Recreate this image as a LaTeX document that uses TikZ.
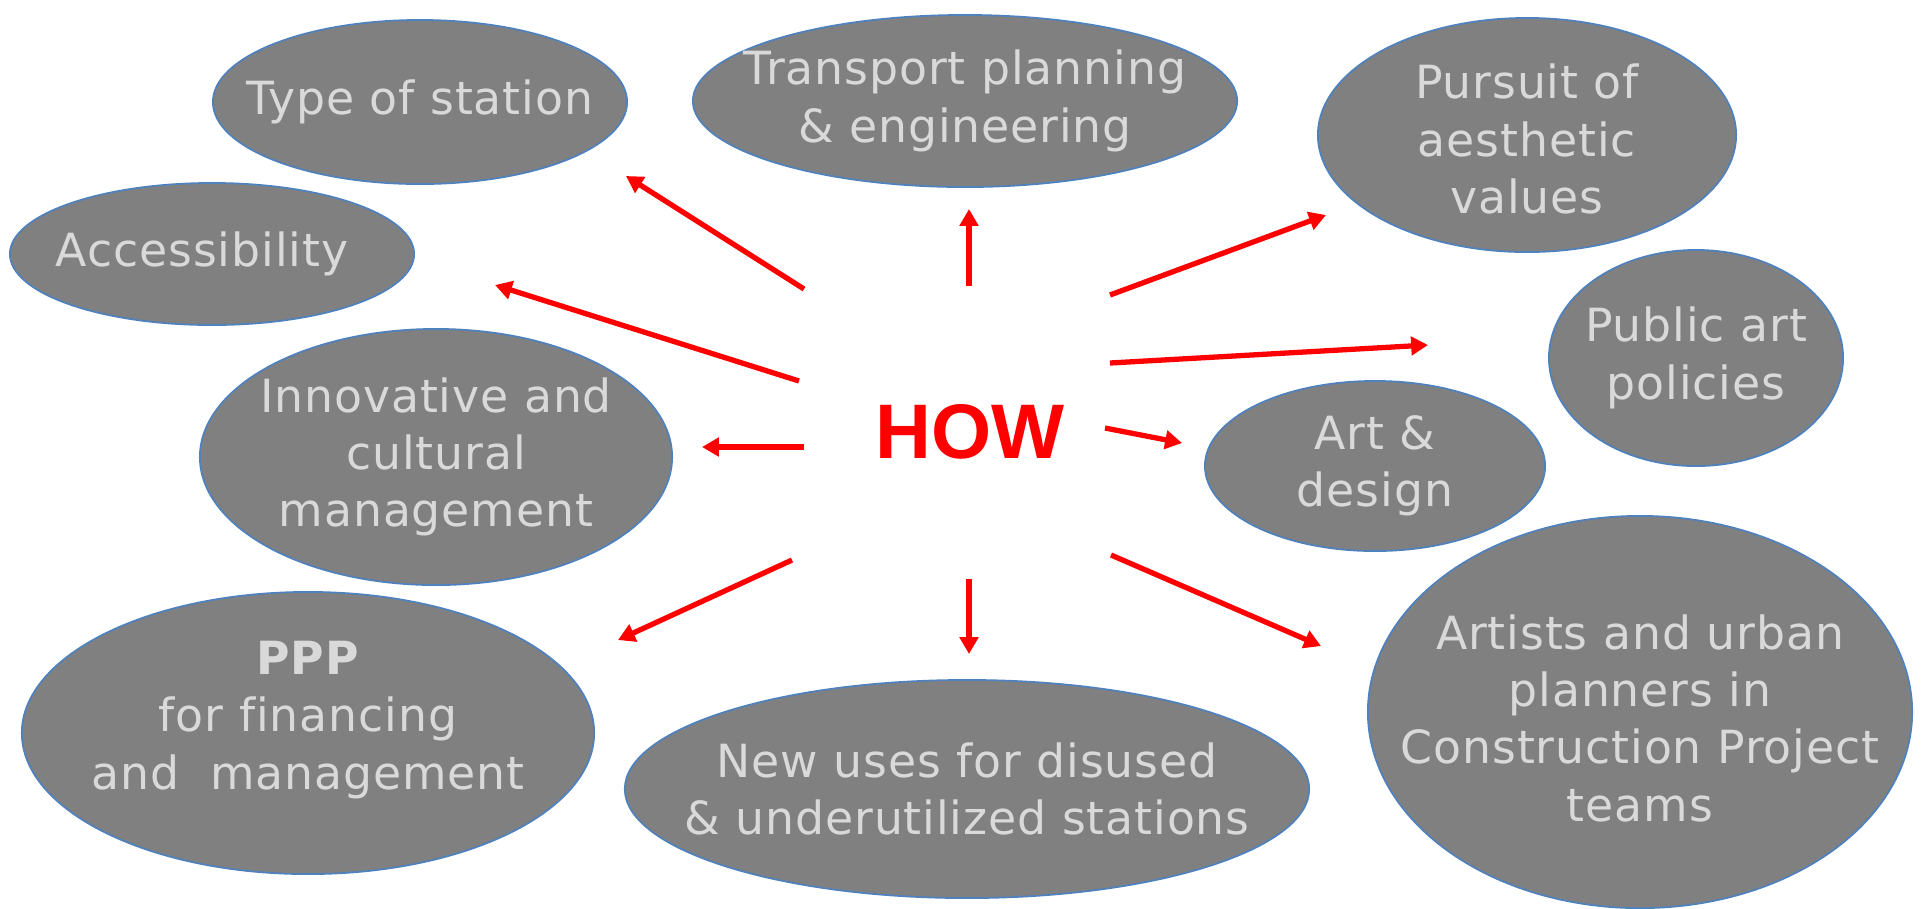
\documentclass[tikz,border=0pt]{standalone}
\usepackage{fontspec}
\setmainfont{DejaVu Sans}[Ligatures=CommonOff,LetterSpace=2]
\newfontfamily\howfont{Liberation Sans}
\usetikzlibrary{shapes.geometric,arrows.meta}
\definecolor{bubblegray}{HTML}{808080}
\definecolor{bubbleline}{HTML}{4F81BD}
\definecolor{bubbletext}{HTML}{D9D9D9}

\begin{document}
\begin{tikzpicture}[x=0.01cm,y=-0.01cm,
    bubble/.style={ellipse,draw=bubbleline,line width=0.5pt,fill=bubblegray,inner sep=0pt},
    bubbletxt/.style={text=bubbletext,align=center,inner sep=0pt,font=\fontsize{13}{16.3}\selectfont},
    howarrow/.style={-{Triangle[length=4.8pt,width=5.2pt]},line width=1.5pt,color=red}]
    \useasboundingbox (0,0) rectangle (1925,908);

    % the ten bubbles
    \node[bubble,minimum width=4.14cm,minimum height=1.64cm] (typ) at (420,102) {};
    \node[bubble,minimum width=5.44cm,minimum height=1.72cm] (tpe) at (965,101) {};
    \node[bubble,minimum width=4.18cm,minimum height=2.34cm] (aes) at (1527,135) {};
    \node[bubble,minimum width=4.04cm,minimum height=1.42cm] (acc) at (212,254) {};
    \node[bubble,minimum width=2.94cm,minimum height=2.16cm] (pap) at (1696,358) {};
    \node[bubble,minimum width=4.72cm,minimum height=2.56cm] (icm) at (436,457) {};
    \node[bubble,minimum width=3.40cm,minimum height=1.70cm] (ard) at (1375,466) {};
    \node[bubble,minimum width=5.72cm,minimum height=2.82cm] (ppp) at (308,733) {};
    \node[bubble,minimum width=6.84cm,minimum height=2.18cm] (nus) at (967,789) {};
    \node[bubble,minimum width=5.44cm,minimum height=3.92cm] (aup) at (1640,712) {};

    \node[bubbletxt] (typ-t) at (typ) {Type of station};
    \node[bubbletxt] (tpe-t) at (tpe) {Transport planning\\\& engineering};
    \node[bubbletxt] (aes-t) at (1527,139) {Pursuit of\\aesthetic\\values};
    \node[bubbletxt] (acc-t) at (202,254) {Accessibility};
    \node[bubbletxt] (pap-t) at (pap) {Public art\\policies};
    \node[bubbletxt] (icm-t) at (icm) {Innovative and\\cultural\\management};
    \node[bubbletxt] (ard-t) at (ard) {Art \&\\design};
    \node[bubbletxt] (ppp-t) at (308,720) {\textbf{PPP}\\for financing\\and\ \ management};
    \node[bubbletxt] (nus-t) at (nus) {New uses for disused\\\& underutilized stations};
    \node[bubbletxt] (aup-t) at (1640,718) {Artists and urban\\planners in\\Construction Project\\teams};

    % centre
    \node[text=red,font=\howfont\bfseries\fontsize{22}{26}\selectfont,inner sep=0pt] (how) at (970,432) {HOW};

    \foreach \n/\sx/\sy/\ex/\ey in {1/804/289/626/176, 2/969/286/969/209, 3/1110/295/1326/215,
        4/799/381/495/285, 5/1110/363/1428/345, 6/804/447/702/447, 7/1105/428/1182/443,
        8/792/560/618/640, 9/969/579/969/654, 10/1111/555/1321/646}
    {
      \coordinate (s\n) at (\sx,\sy);
      \coordinate (e\n) at (\ex,\ey);
      \draw[howarrow] (s\n) -- (e\n);
    }
\end{tikzpicture}
\end{document}
